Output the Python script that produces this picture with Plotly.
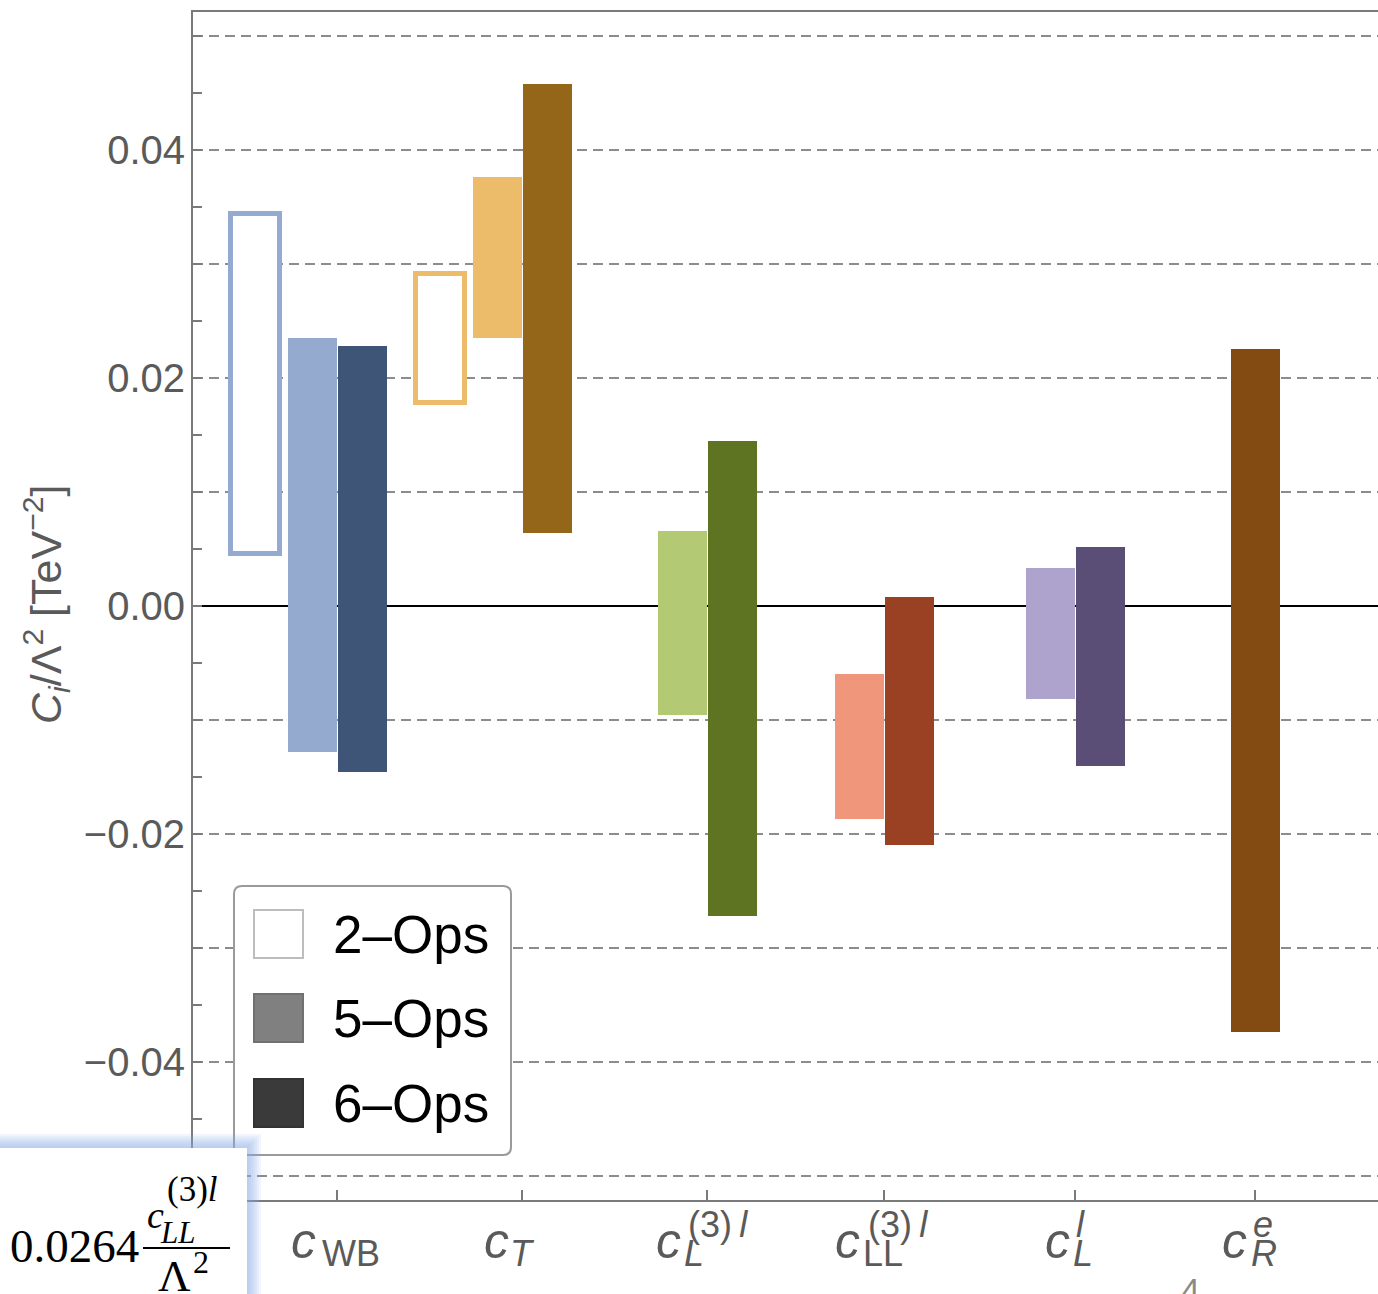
import plotly.graph_objects as go

# ---- data: coefficient intervals (TeV^-2) ----
categories = ["c_WB", "c_T", "c_L^(3)l", "c_LL^(3)l", "c_L^l", "c_R^e"]

ops2_low  = [0.0046, 0.0178, None, None, None, None]
ops2_high = [0.0344, 0.0291, None, None, None, None]

ops5_low  = [-0.0128, 0.0235, -0.0096, -0.0187, -0.0082, None]
ops5_high = [0.0235, 0.0376, 0.0066, -0.0060, 0.0033, None]

ops6_low  = [-0.0146, 0.0064, -0.0272, -0.0210, -0.0140, -0.0374]
ops6_high = [0.0228, 0.0458, 0.0145, 0.0008, 0.0052, 0.0225]

y_ticks = [-0.05, -0.04, -0.03, -0.02, -0.01, 0.0, 0.01, 0.02, 0.03, 0.04, 0.05]
y_labels = ["", "\u22120.04", "", "\u22120.02", "", "0.00", "", "0.02", "", "0.04", ""]

# ---- styling ----
cat_pos = [2.88, 6.58, 10.28, 13.82, 17.64, 21.24]
col2 = ["#94aad0", "#ecbc6a", None, None, None, None]
col5 = ["#94aacf", "#ecbc6a", "#b3c974", "#f0967a", "#ada3cc", None]
col6 = ["#3f5577", "#94661a", "#5e7422", "#9a4124", "#5a4e77", "#834a12"]

AXIS = "#7a7a7a"
LABEL = "#5a5a5a"
SANS = "Liberation Sans, Arial, sans-serif"
SERIF = "Liberation Serif, Times New Roman, serif"

W_FIG, H_FIG = 1378, 1294
L, R, T, B = 193, 1378, 12, 1200
PW, PH = R - L, B - T


def xp(px):
    return (px - L) / PW


def yp(py):
    return (B - py) / PH


def bar_series(lows, highs, offsets):
    xs, hs, bs, idx = [], [], [], []
    for i, (lo, hi) in enumerate(zip(lows, highs)):
        if lo is None:
            continue
        xs.append(cat_pos[i] + offsets[i])
        hs.append(hi - lo)
        bs.append(lo)
        idx.append(i)
    return xs, hs, bs, idx


fig = go.Figure()

# 6-Ops sits right of the tick when a 5-Ops bar shares the category
off6 = [0.5 if ops5_low[i] is not None else 0.0 for i in range(len(categories))]
off5 = [-0.5] * len(categories)
off2 = [-1.64] * len(categories)

x5, h5, b5, i5 = bar_series(ops5_low, ops5_high, off5)
fig.add_trace(go.Bar(x=x5, y=h5, base=b5, width=0.98,
                     marker=dict(color=[col5[i] for i in i5], line=dict(width=0)),
                     showlegend=False, name="5-Ops"))

x6, h6, b6, i6 = bar_series(ops6_low, ops6_high, off6)
fig.add_trace(go.Bar(x=x6, y=h6, base=b6, width=0.98,
                     marker=dict(color=[col6[i] for i in i6], line=dict(width=0)),
                     showlegend=False, name="6-Ops"))

x2, h2, b2, i2 = bar_series(ops2_low, ops2_high, off2)
fig.add_trace(go.Bar(x=x2, y=h2, base=b2, width=0.98,
                     marker=dict(color="white",
                                 line=dict(color=[col2[i] for i in i2], width=5)),
                     showlegend=False, name="2-Ops"))

shapes = []
annotations = []

# ---- legend box ----
lx0, lx1, ly0, ly1, rad = 234, 511, 886, 1155, 8
path = (f"M {xp(lx0+rad)},{yp(ly0)} L {xp(lx1-rad)},{yp(ly0)} "
        f"Q {xp(lx1)},{yp(ly0)} {xp(lx1)},{yp(ly0+rad)} "
        f"L {xp(lx1)},{yp(ly1-rad)} Q {xp(lx1)},{yp(ly1)} {xp(lx1-rad)},{yp(ly1)} "
        f"L {xp(lx0+rad)},{yp(ly1)} Q {xp(lx0)},{yp(ly1)} {xp(lx0)},{yp(ly1-rad)} "
        f"L {xp(lx0)},{yp(ly0+rad)} Q {xp(lx0)},{yp(ly0)} {xp(lx0+rad)},{yp(ly0)} Z")
shapes.append(dict(type="path", xref="paper", yref="paper", path=path,
                   fillcolor="white", line=dict(color="#9a9a9a", width=2), layer="above"))

legend_items = [("2\u2013Ops", "white", "#bdbdbd", 910),
                ("5\u2013Ops", "#808080", "#707070", 994),
                ("6\u2013Ops", "#3a3a3a", "#333333", 1079)]
for text, fill, edge, top in legend_items:
    shapes.append(dict(type="rect", xref="paper", yref="paper",
                       x0=xp(254), x1=xp(303), y0=yp(top), y1=yp(top + 48),
                       fillcolor=fill, line=dict(color=edge, width=2), layer="above"))
    annotations.append(dict(xref="paper", yref="paper", x=xp(331), y=yp(top + 25 + 18 - 0.3465 * 53),
                            text=text, showarrow=False, xanchor="left", yanchor="middle",
                            font=dict(family=SANS, size=53, color="black")))

# ---- x tick labels built from stacked sub/superscripts ----
tick_parts = [
    # base dx, sub text, sub dx, sup text, sup dx
    (-19, "WB", -17, None, 0),
    (-11, "<i>T</i>", -14, None, 0),
    (-24, "<i>L</i>", -25, "(3)\u2009<i>l</i>", -21),
    (-22, "LL", -23, "(3)\u2009<i>l</i>", -18),
    (-3, "<i>L</i>", -4, "<i>l</i>", -1),
    (-6, "<i>R</i>", -6, "<i>e</i>", -4),
]
for pos, (bdx, sub, sdx, sup, udx) in zip(cat_pos, tick_parts):
    annotations.append(dict(xref="x", yref="paper", x=pos, y=yp(1258 - 0.3465 * 50),
                            xshift=bdx, text="<i>c</i>", showarrow=False,
                            xanchor="right", yanchor="middle",
                            font=dict(family=SANS, size=50, color=LABEL)))
    annotations.append(dict(xref="x", yref="paper", x=pos, y=yp(1266 - 0.3465 * 36),
                            xshift=sdx, text=sub, showarrow=False,
                            xanchor="left", yanchor="middle",
                            font=dict(family=SANS, size=36, color=LABEL)))
    if sup:
        annotations.append(dict(xref="x", yref="paper", x=pos, y=yp(1237 - 0.3465 * 36),
                                xshift=udx, text=sup, showarrow=False,
                                xanchor="left", yanchor="middle",
                                font=dict(family=SANS, size=36, color=LABEL)))

# ---- y axis title ----
annotations.append(dict(xref="paper", yref="paper", x=xp(46), y=yp(605),
                        text="<i>C<sub>i</sub></i>/\u039b<sup>2</sup> [TeV<sup>\u22122</sup>]",
                        textangle=-90, showarrow=False, xanchor="center", yanchor="middle",
                        font=dict(family=SANS, size=43, color=LABEL)))

# ---- inset formula box in the lower left corner ----
for k in range(1, 8):
    shapes.append(dict(type="rect", xref="paper", yref="paper",
                       x0=xp(-30), x1=xp(247 + 2 * k), y0=yp(1330), y1=yp(1148 - 2 * k),
                       fillcolor="rgba(140,170,225,0.11)", line=dict(width=0), layer="above"))
shapes.append(dict(type="rect", xref="paper", yref="paper",
                   x0=xp(-30), x1=xp(247), y0=yp(1330), y1=yp(1148),
                   fillcolor="white", line=dict(width=0), layer="above"))
shapes.append(dict(type="line", xref="paper", yref="paper",
                   x0=xp(143), x1=xp(230), y0=yp(1248), y1=yp(1248),
                   line=dict(color="black", width=2), layer="above"))

formula = [
    ("0.0264", 8, 1262, 47),
    ("<i>c</i>", 145, 1228, 38),
    ("<i>LL</i>", 158, 1243, 31),
    ("(3)<i>l</i>", 165, 1201, 35),
    ("\u039b", 156, 1291, 45),
    ("2", 191, 1273, 32),
]
for text, x0, base, size in formula:
    annotations.append(dict(xref="paper", yref="paper", x=xp(x0), y=yp(base - 0.3375 * size),
                            text=text, showarrow=False, xanchor="left", yanchor="middle",
                            font=dict(family=SERIF, size=size, color="black")))

# page number peeking in at the bottom edge
annotations.append(dict(xref="paper", yref="paper", x=xp(1190), y=yp(1301 - 0.3375 * 34),
                        text="4", showarrow=False, xanchor="center", yanchor="middle",
                        font=dict(family=SANS, size=34, color="#8a8a8a")))

fig.update_layout(
    width=W_FIG, height=H_FIG,
    margin=dict(l=L, r=W_FIG - R, t=T, b=H_FIG - B, pad=0),
    paper_bgcolor="white", plot_bgcolor="white",
    barmode="overlay", bargap=0,
    showlegend=False,
    font=dict(family=SANS, color=LABEL),
    shapes=shapes, annotations=annotations,
    xaxis=dict(range=[0, PW / 50.0], tickvals=cat_pos, ticktext=[""] * len(cat_pos),
               ticks="inside", ticklen=10, tickwidth=2, tickcolor=AXIS,
               showline=True, linecolor=AXIS, linewidth=2, mirror=True,
               showgrid=False, zeroline=False, fixedrange=True),
    yaxis=dict(range=[-0.0521, 0.0521], tickvals=y_ticks, ticktext=y_labels,
               ticks="inside", ticklen=9, tickwidth=2, tickcolor=AXIS,
               tickfont=dict(family=SANS, size=40, color=LABEL),
               ticklabelstandoff=-2,
               minor=dict(tickvals=[-0.045, -0.035, -0.025, -0.015, -0.005,
                                    0.005, 0.015, 0.025, 0.035, 0.045],
                          ticks="inside", ticklen=9, tickwidth=2, tickcolor=AXIS,
                          showgrid=False),
               showline=True, linecolor=AXIS, linewidth=2,
               showgrid=True, gridcolor="#8c8c8c", gridwidth=2, griddash="10px,6px",
               zeroline=True, zerolinecolor="black", zerolinewidth=2,
               fixedrange=True),
)

fig.write_html("out.html")
